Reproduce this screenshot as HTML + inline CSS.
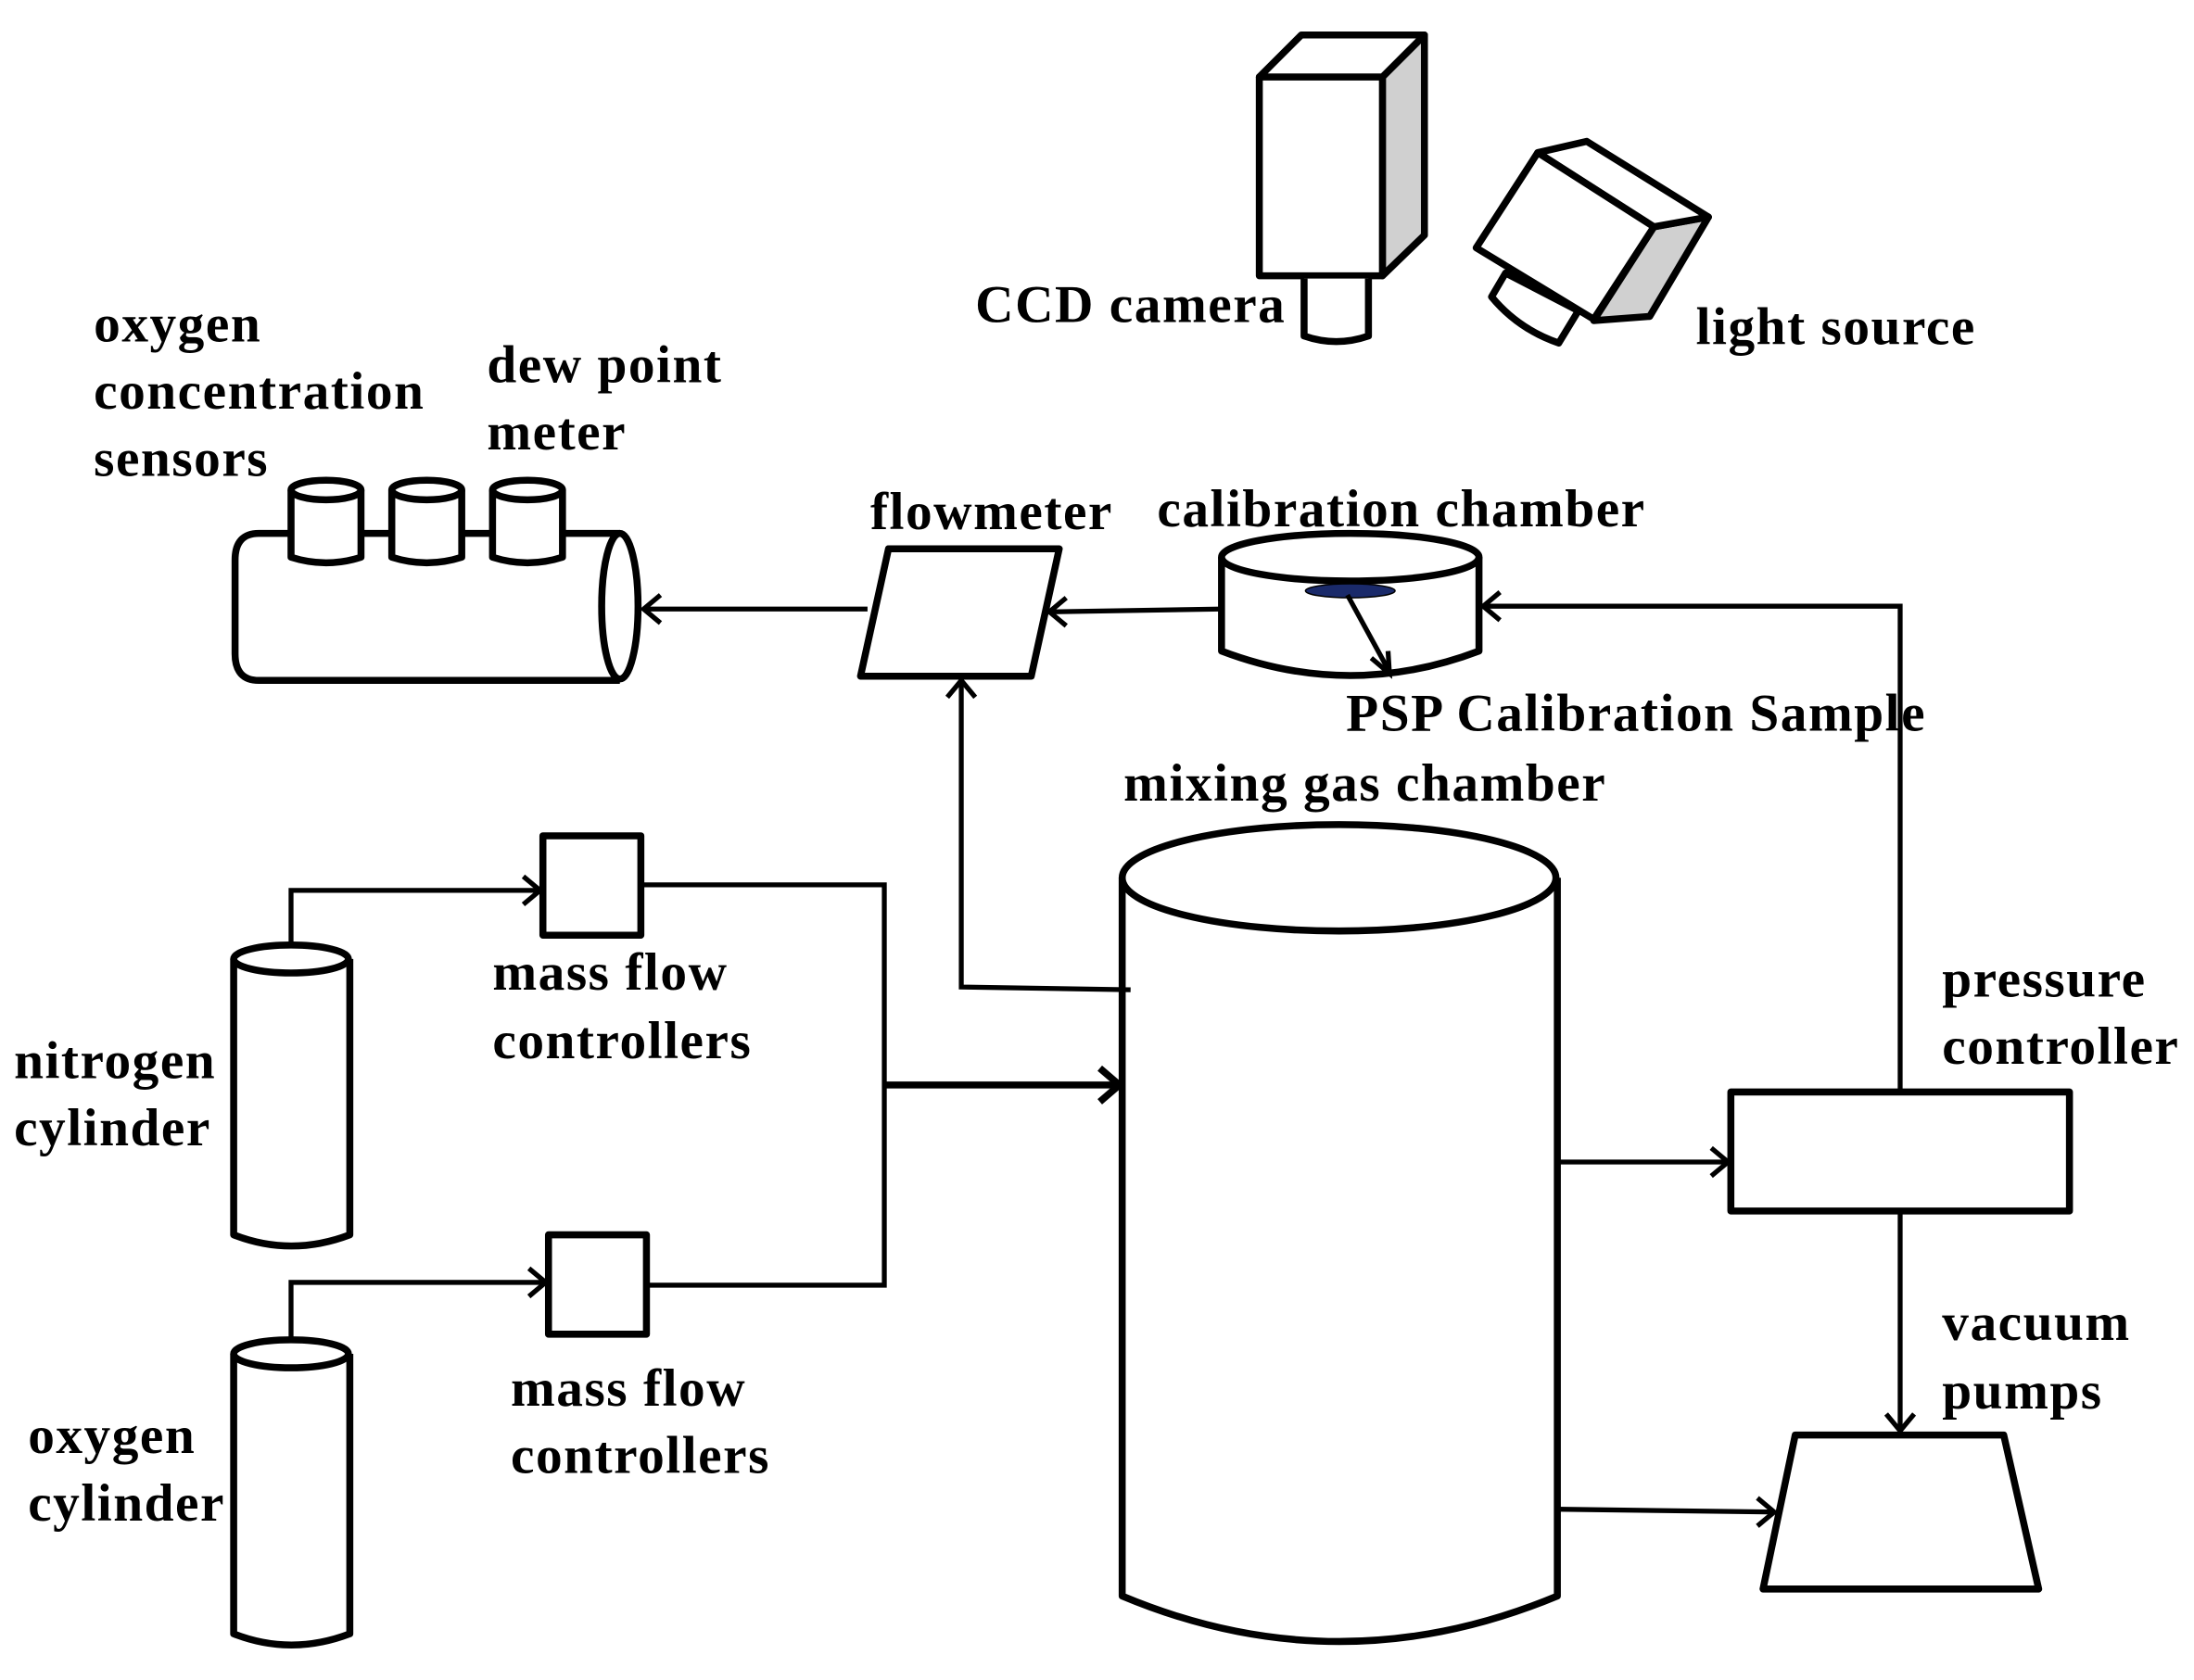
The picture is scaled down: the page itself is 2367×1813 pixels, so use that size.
<!DOCTYPE html>
<html><head><meta charset="utf-8"><style>
html,body{margin:0;padding:0;background:#fff;}
svg{display:block;}
text{font-family:"Liberation Serif",serif;font-weight:bold;font-size:38px;letter-spacing:1px;fill:#000;}
</style></head><body>
<svg width="2367" height="1813" viewBox="0 0 1568 1200" preserveAspectRatio="none" xmlns="http://www.w3.org/2000/svg">
<g fill="none" stroke="#000" stroke-width="5" stroke-linejoin="round">
<!-- CCD camera -->
<polygon points="988,55 1018,25 1018,168 988,197" fill="#d0d0d0"/>
<polygon points="900,55 930,25 1018,25 988,55" fill="#fff"/>
<rect x="900" y="55" width="88" height="142" fill="#fff"/>
<path d="M932,199 L932,240 Q955,248 978,240 L978,199" fill="#fff"/>
<!-- light source -->
<path d="M1076,195 L1066,212 Q1085,235 1114,245 L1128,222 Z" fill="#fff"/>
<polygon points="1182,162 1221,155 1179,226 1139,229" fill="#d0d0d0"/>
<polygon points="1099,109 1134,101 1221,155 1182,162" fill="#fff"/>
<polygon points="1055,177 1099,109 1182,162 1139,228" fill="#fff"/>
<!-- oxygen sensor tube -->
<path d="M443,381 L185,381 Q168,381 168,400 L168,467 Q168,486 185,486 L443,486"/>
<ellipse cx="443" cy="433" rx="13" ry="52"/>
<g fill="#fff">
<path d="M208,350 L208,398 Q233,406 258,398 L258,350"/><ellipse cx="233" cy="350" rx="25" ry="7"/>
<path d="M280,350 L280,398 Q305,406 330,398 L330,350"/><ellipse cx="305" cy="350" rx="25" ry="7"/>
<path d="M352,350 L352,398 Q377,406 402,398 L402,350"/><ellipse cx="377" cy="350" rx="25" ry="7"/>
</g>
<!-- flowmeter -->
<polygon points="615,483 635,392 757,392 737,483"/>
<!-- calibration chamber -->
<path d="M873,398 L873,465 Q965,500 1057,465 L1057,398"/>
<ellipse cx="965" cy="398" rx="92" ry="17"/>
<!-- mixing chamber -->
<path d="M802,627 L802,1140 Q957,1205 1113,1140 L1113,627"/>
<ellipse cx="957" cy="627" rx="155" ry="38"/>
<!-- pressure controller -->
<rect x="1237" y="780" width="242" height="85"/>
<!-- vacuum pump -->
<polygon points="1283,1025 1432,1025 1457,1135 1260,1135"/>
<!-- MFCs -->
<rect x="388" y="597" width="70" height="71"/>
<rect x="392" y="882" width="70" height="71"/>
<!-- cylinders -->
<path d="M167,685 L167,882 Q208,898 250,882 L250,685"/><ellipse cx="208" cy="685" rx="41" ry="10"/>
<path d="M167,967 L167,1167 Q208,1183 250,1167 L250,967"/><ellipse cx="208" cy="967" rx="41" ry="10"/>
</g>
<ellipse cx="965" cy="422" rx="32" ry="5" fill="#1a2a6a" stroke="#000" stroke-width="1"/>
<!-- connectors -->
<g fill="none" stroke="#000" stroke-width="3.5">
<path d="M620,435 L462,435"/><path d="M472,425 L460,435 L472,445"/>
<path d="M872,435 L752,437"/><path d="M762,427 L750,437 L762,447"/>
<path d="M1358,780 L1358,433 L1062,433"/><path d="M1072,423 L1060,433 L1072,443"/>
<path d="M963,425 L992,478"/><path d="M980,470 L993,481 L992,465"/>
<path d="M808,707 L687,705 L687,488"/><path d="M677,498 L687,486 L697,498"/>
<path d="M1113,830 L1233,830"/><path d="M1223,820 L1235,830 L1223,840"/>
<path d="M1358,865 L1358,1020"/><path d="M1348,1010 L1358,1022 L1368,1010"/>
<path d="M1113,1078 L1266,1080"/><path d="M1256,1070 L1268,1080 L1256,1090"/>
<path d="M208,675 L208,636 L384,636"/><path d="M374,626 L386,636 L374,646"/>
<path d="M208,957 L208,916 L388,916"/><path d="M378,906 L390,916 L378,926"/>
<path d="M458,632 L632,632 L632,918 L462,918"/>
</g>
<path d="M632,775 L798,775" stroke="#000" stroke-width="5"/>
<path d="M786,763 L800,775 L786,787" stroke="#000" stroke-width="5" fill="none"/>
<!-- labels -->
<text x="697" y="230">CCD camera</text>
<text x="1212" y="246">light source</text>
<text x="67" y="244">oxygen</text>
<text x="67" y="292">concentration</text>
<text x="67" y="340">sensors</text>
<text x="348" y="273">dew point</text>
<text x="348" y="321">meter</text>
<text x="622" y="378">flowmeter</text>
<text x="827" y="376">calibration chamber</text>
<text x="962" y="522">PSP Calibration Sample</text>
<text x="803" y="572">mixing gas chamber</text>
<text x="1388" y="712">pressure</text>
<text x="1388" y="760">controller</text>
<text x="1388" y="957">vacuum</text>
<text x="1388" y="1006">pumps</text>
<text x="352" y="707">mass flow</text>
<text x="352" y="756">controllers</text>
<text x="10" y="770">nitrogen</text>
<text x="10" y="818">cylinder</text>
<text x="365" y="1004">mass flow</text>
<text x="365" y="1052">controllers</text>
<text x="20" y="1038">oxygen</text>
<text x="20" y="1086">cylinder</text>
</svg>
</body></html>
